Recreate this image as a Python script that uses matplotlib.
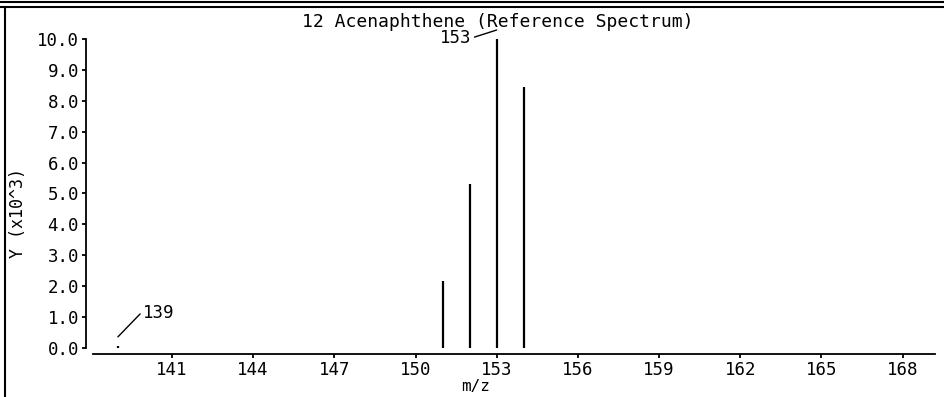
import matplotlib
matplotlib.use("Agg")
import matplotlib.pyplot as plt
from matplotlib.lines import Line2D

# spectrum peaks (m/z, intensity in thousands)
mz = [139, 151, 152, 153, 154]
intensity = [0.06, 2.17, 5.3, 10.0, 8.45]

x_ticks = [141, 144, 147, 150, 153, 156, 159, 162, 165, 168]
y_ticks = [0, 1, 2, 3, 4, 5, 6, 7, 8, 9, 10]

title = "12 Acenaphthene (Reference Spectrum)"

W, H = 944, 397
plt.rcParams['font.family'] = ['DejaVu Sans Mono']

fig = plt.figure(figsize=(W / 100, H / 100), dpi=100)
# axes box in pixels: x 93..935, y 30..354 (from top)
ax = fig.add_axes([93 / W, (H - 354) / H, (935 - 93) / W, (354 - 30) / H])

ax.vlines(mz, 0, intensity, color='black', linewidth=1.6)

ax.set_xlim(138.08, 169.2)
ax.set_ylim(-0.194, 10.29)

for s in ['top', 'right']:
    ax.spines[s].set_visible(False)
ax.spines['left'].set_bounds(0, 10)
ax.spines['left'].set_position(('outward', 5))
ax.spines['left'].set_linewidth(1.3)
ax.spines['bottom'].set_linewidth(1.3)

ax.set_xticks(x_ticks)
ax.set_xticklabels([str(t) for t in x_ticks])
ax.set_yticks(y_ticks)
ax.set_yticklabels([f"{t:.1f}" for t in y_ticks])
ax.tick_params(axis='both', direction='out', length=3, width=1.3, labelsize=12.5, pad=2)

# peak labels with leader lines
ax.annotate("139", xy=(139, 0.36), xytext=(25, 24), textcoords='offset pixels',
            ha='left', va='center', fontsize=12.5, annotation_clip=False,
            arrowprops=dict(arrowstyle='-', relpos=(0, 0.6), shrinkA=0, shrinkB=0, lw=1))
ax.annotate("153", xy=(153, 10.29), xytext=(-25, -8), textcoords='offset pixels',
            ha='right', va='center', fontsize=12.5, annotation_clip=False,
            arrowprops=dict(arrowstyle='-', relpos=(1, 0.5), shrinkA=0, shrinkB=0, lw=1))

fig.text(498 / W, 1 - 22 / H, title, ha='center', va='center', fontsize=13)
fig.text(18 / W, 1 - 213 / H, "Y (x10^3)", ha='center', va='center', rotation=90, fontsize=12)
fig.text(476 / W, 1 - 387 / H, "m/z", ha='center', va='center', fontsize=11.5)

# frame lines of the report page
fig.add_artist(Line2D([0, 1], [1 - 2 / H, 1 - 2 / H], transform=fig.transFigure, color='black', lw=1.5))
fig.add_artist(Line2D([0, 1], [1 - 7 / H, 1 - 7 / H], transform=fig.transFigure, color='black', lw=1.5))
fig.add_artist(Line2D([5 / W, 5 / W], [0, 1 - 7 / H], transform=fig.transFigure, color='black', lw=1.5))

fig.savefig("out.png", dpi=100)
